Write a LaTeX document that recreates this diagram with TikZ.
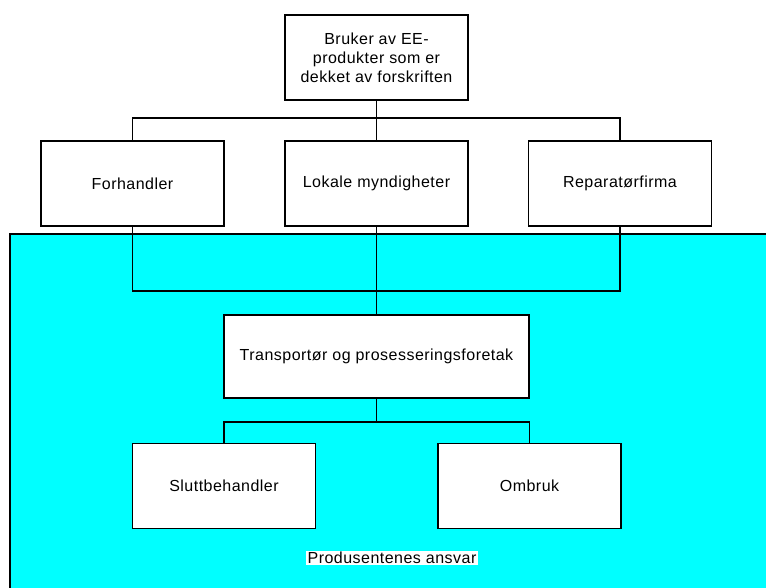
\documentclass[tikz,border=0pt]{standalone}
\usepackage{fontspec}
\setmainfont{Liberation Sans}[LetterSpace=3]
\definecolor{zone}{rgb}{0,1,1}
\begin{document}
\begin{tikzpicture}[x=0.75pt,y=-0.75pt,
  orgbox/.style={draw=black,line width=1.4pt,fill=white,minimum width=183*0.75pt,minimum height=85*0.75pt,
    inner sep=0pt,align=center,font=\fontsize{12}{14.3}\selectfont},
  link/.style={draw=black,line width=1.2pt},
]
\useasboundingbox (0,0) rectangle (766,587);
\begin{scope}
  \clip (0,0) rectangle (766,587);
  \draw[line width=1.6pt,fill=zone] (10,234) rectangle (790,610);
\end{scope}

% top level
\node[orgbox] (user) at (376.5,57.5) {Bruker av EE-\\produkter som er\\dekket av forskriften};
% collectors
\node[orgbox] (dealer) at (132.5,183.5) {Forhandler};
\node[orgbox] (local) at (376.5,183.5) {Lokale myndigheter};
\node[orgbox] (repair) at (620,183.5) {Reparatørfirma};
% transport
\node[orgbox,minimum width=305*0.75pt,minimum height=83*0.75pt] (trans) at (376.5,356.5) {Transportør og prosesseringsforetak};
% final
\node[orgbox] (final) at (224,486) {Sluttbehandler};
\node[orgbox] (reuse) at (529.5,486) {Ombruk};

\node[fill=white,inner sep=1pt,font=\fontsize{12}{13}\selectfont] (resp) at (392,558) {Produsentenes ansvar};

\coordinate (j1) at (376.5,118);
\coordinate (j2) at (376.5,291);
\coordinate (j3) at (376.5,422);

\draw[link] (user.south) -- (j1);
\draw[link] (j1) -| (dealer.north);
\draw[link] (j1) -| (repair.north);
\draw[link] (j1) -- (local.north);

\draw[link] (dealer.south) |- (j2);
\draw[link] (repair.south) |- (j2);
\draw[link] (local.south) -- (j2);
\draw[link] (j2) -- (trans.north);

\draw[link] (trans.south) -- (j3);
\draw[link] (j3) -| (final.north);
\draw[link] (j3) -| (reuse.north);
\end{tikzpicture}
\end{document}
